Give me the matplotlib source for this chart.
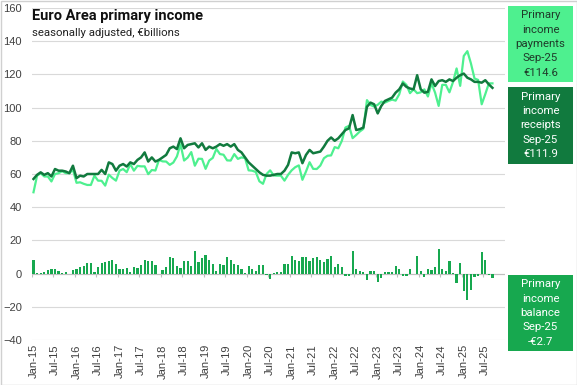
import matplotlib
matplotlib.use("Agg")
import matplotlib.pyplot as plt
from matplotlib.patches import Rectangle
import numpy as np

# Monthly data Jan-15 .. Sep-25 (EUR billions, seasonally adjusted)
receipts = [
    57, 59.5, 61, 59.5, 60.5, 58.5, 63, 62, 62, 61.5, 60.5, 65,
    57.5, 59, 58.5, 60, 60, 60, 60, 62.5, 60, 67, 66, 62,
    65, 66, 64.5, 67, 66, 68.5, 70, 73, 67.5, 70, 67.5, 68.5,
    70, 71.5, 75.5, 76.5, 75, 81.5, 75.5, 77.5, 78, 78.5, 76, 78.5,
    74.5, 76.5, 75.5, 76.5, 78, 77, 78, 76.5, 78, 74.5, 73, 70,
    67, 65, 63, 61, 59.5, 59, 59, 59.5, 60, 60, 62, 65.5,
    73, 72.5, 73, 66.5, 71.5, 74.5, 72.5, 73, 73.5, 76.5, 80, 82,
    80, 81.5, 84, 86.5, 87.5, 95.5, 86.5, 87, 88, 100.5, 103, 102,
    96.5, 101, 104, 105, 106, 109, 111, 114.5, 112.5, 111.5, 111, 119.5,
    111, 109, 109.5, 117, 113, 116, 116.5, 115.5, 117, 116, 118, 119.5,
    120.5, 118, 117, 115.5, 115.5, 115, 116.5, 114, 111.9,
]
payments = [
    49, 59, 60.5, 58.5, 58.5, 55.5, 60, 60.5, 61.7, 60.5, 60.5, 62.6,
    54.7, 55, 54.1, 53.4, 53.4, 59, 56, 55.9, 53, 59.6, 57.6, 56,
    62, 63, 61.1, 66, 62, 64.9, 64.6, 64.6, 59.9, 62.4, 62.1, 68.5,
    67.6, 67.5, 65.5, 66.9, 70.6, 77.9, 68.1, 69.9, 73.2, 65, 69.2, 69.1,
    63.1, 68.1, 69.7, 75.1, 72, 71.6, 68.2, 68.1, 72, 69.1, 70, 69.6,
    62.2, 62, 61.2, 55.6, 54.1, 60, 62.2, 59.1, 59, 59, 56, 59.5,
    62.2, 64.1, 65.2, 56.5, 61.5, 67.1, 63.1, 63, 65.1, 69.5, 71, 71.2,
    76.2, 75.5, 80, 88, 89, 81.6, 83.5, 85.6, 87.2, 104.5, 101.6, 100.6,
    101.7, 103.6, 103, 104, 104.8, 104.2, 108, 115.7, 113.7, 108.7, 111, 108.7,
    109.2, 111, 106.7, 114.6, 109, 101, 113.7, 113.7, 109.2, 115.4, 123.6, 113.1,
    131.1, 134, 126.6, 117.5, 116.7, 102, 108.1, 114.6, 114.6,
]
balance = [
    8, 0.5, 0.5, 1, 2, 3, 3, 1.5, 0.3, 1, 0, 2.4,
    2.8, 4, 4.4, 6.6, 6.6, 1, 4, 6.6, 7, 7.4, 8.4, 6,
    3, 3, 3.4, 1, 4, 3.6, 5.4, 8.4, 7.6, 7.6, 5.4, 0,
    2.4, 4, 10, 9.6, 4.4, 3.6, 7.4, 7.6, 4.8, 13.5, 6.8, 9.4,
    11.4, 8.4, 5.8, 1.4, 6, 5.4, 9.8, 8.4, 6, 5.4, 3, 0.4,
    4.8, 3, 1.8, 5.4, 5.4, -1, -3.2, 0.4, 1, 1, 6, 6,
    10.8, 8.4, 7.8, 10, 10, 7.4, 9.4, 10, 8.4, 7, 9, 10.8,
    3.8, 6, 4, -1.6, -1.6, 13.9, 3, 1.4, 0.8, -4, 1.4, 1.4,
    -5.2, -2.6, 1, 1, 1.2, 4.8, 3, -1.2, -1.2, 2.8, 0, 10.8,
    1.8, -2, 2.8, 2.4, 4, 15, 2.8, 1.8, 7.8, 0.6, -5.6, 6.4,
    -10.6, -16, -9.6, -2, -1.2, 13, 8.4, -0.6, -2.7,
]
tick_labels = [
    "Jan-15", "Jul-15", "Jan-16", "Jul-16", "Jan-17", "Jul-17", "Jan-18", "Jul-18",
    "Jan-19", "Jul-19", "Jan-20", "Jul-20", "Jan-21", "Jul-21", "Jan-22", "Jul-22",
    "Jan-23", "Jul-23", "Jan-24", "Jul-24", "Jan-25", "Jul-25",
]
y_ticks = [-40, -20, 0, 20, 40, 60, 80, 100, 120, 140, 160]

box_payments = ["Primary", "income", "payments", "Sep-25", "€114.6"]
box_receipts = ["Primary", "income", "receipts", "Sep-25", "€111.9"]
box_balance = ["Primary", "income", "balance", "Sep-25", "-€2.7"]

C_PAY = "#4EF08F"
C_REC = "#117A3E"
C_BAL = "#17A84F"
GRID = "#D9D9D9"

W, H = 577, 385
fig = plt.figure(figsize=(W / 100, H / 100), dpi=100)
fig.patch.set_facecolor("white")

L, R, T, B = 31.7, 505, 8, 340
ax = fig.add_axes([L / W, 1 - B / H, (R - L) / W, (B - T) / H])
x = np.arange(len(receipts))
ax.set_xlim(-0.5, 131.5)
ax.set_ylim(-40, 160)
for s in ax.spines.values():
    s.set_visible(False)

ax.set_yticks(y_ticks)
ax.yaxis.grid(True, color=GRID, lw=0.8)
ax.set_axisbelow(True)
ax.tick_params(axis="y", length=0, pad=7, labelsize=8, labelcolor="#404040")
for lab in ax.get_yticklabels():
    lab.set_fontfamily("Liberation Sans")

ax.set_xticks(x[::6])
ax.set_xticklabels(tick_labels, rotation=90, fontfamily="Liberation Sans")
ax.tick_params(axis="x", length=0, pad=3, labelsize=8, labelcolor="#404040")

ax.bar(x, balance, width=0.62, color=C_BAL, zorder=2)
ax.axhline(0, color="#BFBFBF", lw=0.8, zorder=1)
ax.vlines(x[::6] - 0.5, -1.8, 0, color="#BFBFBF", lw=0.8, zorder=1)

ax.plot(x, payments, color=C_PAY, lw=1.6, zorder=3)
ax.plot(x, receipts, color=C_REC, lw=1.8, zorder=4)

fig.text(L / W, 1 - 16 / H, "Euro Area primary income", fontsize=10.5,
         fontweight="bold", fontfamily="Roboto", va="center", ha="left", color="#111111")
fig.text(L / W, 1 - 33 / H, "seasonally adjusted, €billions", fontsize=8.2,
         fontfamily="Roboto", va="center", ha="left", color="#222222")


def box(y0, y1, color, lines, tcolor):
    x0, x1 = 508, 573
    fig.patches.append(Rectangle((x0 / W, 1 - y1 / H), (x1 - x0) / W, (y1 - y0) / H,
                                 transform=fig.transFigure, facecolor=color,
                                 edgecolor="none", zorder=5))
    yc = (y0 + y1) / 2
    step = 14.4
    for k, t in enumerate(lines):
        yy = yc + (k - 2) * step
        fig.text((x0 + x1) / 2 / W, 1 - yy / H, t, fontsize=8.2, fontfamily="Roboto",
                 ha="center", va="center", color=tcolor, zorder=6)


box(6, 82, C_PAY, box_payments, "#1F3B2A")
box(87, 164, C_REC, box_receipts, "white")
box(275, 351, C_BAL, box_balance, "white")

fig.patches.append(Rectangle((0.5 / W, 0.5 / H), (W - 1) / W, (H - 1) / H,
                             transform=fig.transFigure, facecolor="none",
                             edgecolor="#D0D0D0", lw=1, zorder=0))

fig.savefig("out.png", dpi=100)
